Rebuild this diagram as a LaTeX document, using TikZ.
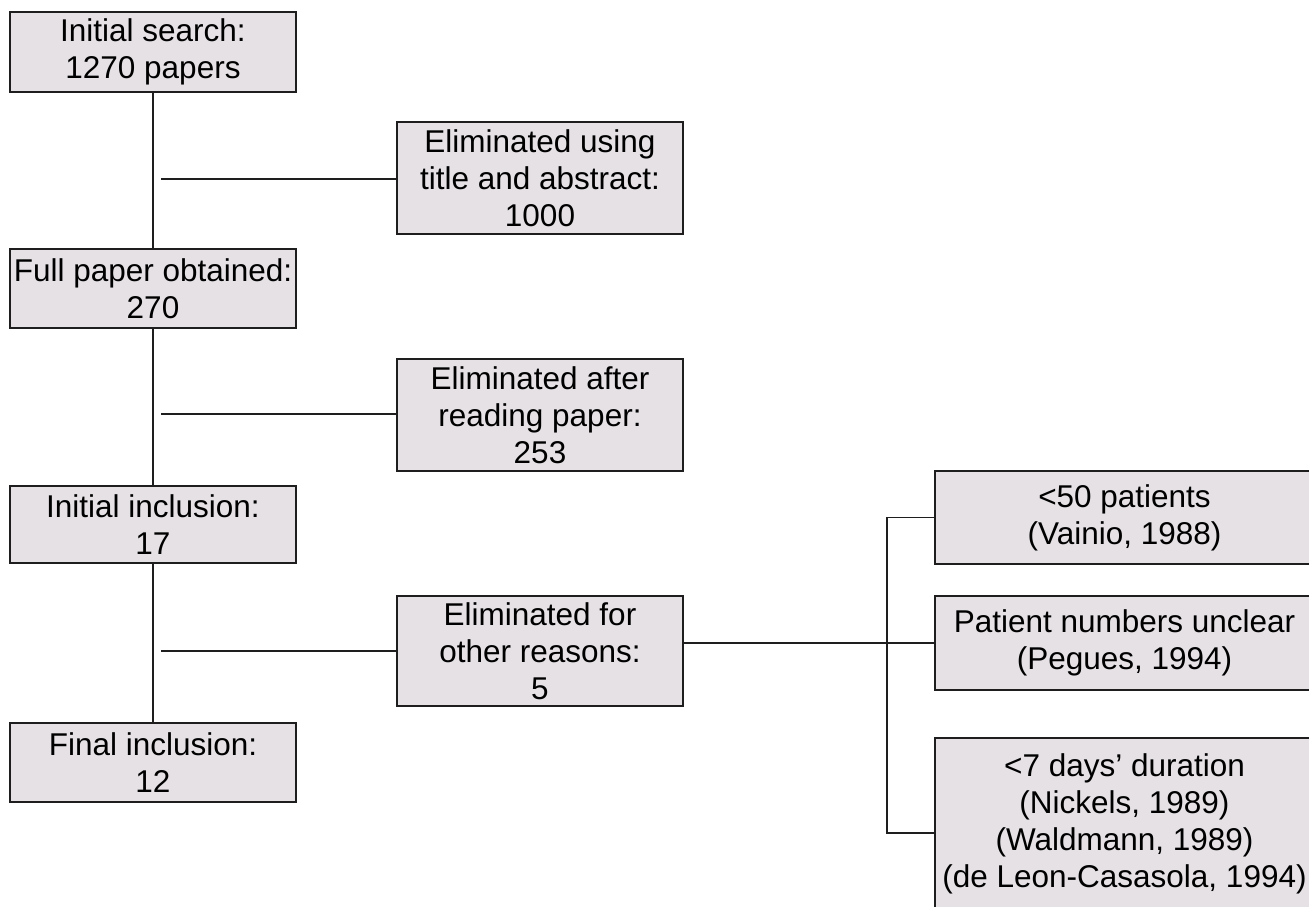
\documentclass[tikz,border=0pt]{standalone}
\usepackage{fontspec}
\setmainfont{Liberation Sans}
\definecolor{boxfill}{RGB}{229,225,229}
\definecolor{edgec}{RGB}{30,30,30}
\begin{document}
\begin{tikzpicture}[x=1pt,y=-1pt,
  box/.style={draw=edgec, line width=1.9pt, fill=boxfill, inner sep=0pt, align=center,
              font=\fontsize{31.5}{37}\selectfont, text=black},
  conn/.style={draw=edgec, line width=1.9pt}]
\useasboundingbox (0,0) rectangle (1309,907);
\clip (0,0) rectangle (1309,907);
% left column
\node[box, minimum width=286pt, minimum height=80pt] (b1) at (153,52) {Initial search:\\1270 papers};
\node[box, minimum width=286pt, minimum height=79pt] (b2) at (153,288.5) {Full paper obtained:\\270};
\node[box, minimum width=286pt, minimum height=77pt] (b3) at (153,524.5) {Initial inclusion:\\17};
\node[box, minimum width=286pt, minimum height=79pt] (b4) at (153,762.5) {Final inclusion:\\12};
% middle column
\node[box, minimum width=286pt, minimum height=112pt] (e1) at (540,178) {Eliminated using\\title and abstract:\\1000};
\node[box, minimum width=286pt, minimum height=112pt] (e2) at (540,415) {Eliminated after\\reading paper:\\253};
\node[box, minimum width=286pt, minimum height=110pt] (e3) at (540,651) {Eliminated for\\other reasons:\\5};
% right column
\node[box, minimum width=379pt, minimum height=93pt] (r1) at (1124.5,517.5) {<50 patients\\(Vainio, 1988)};
\node[box, minimum width=379pt, minimum height=94pt] (r2) at (1124.5,643) {Patient numbers unclear\\(Pegues, 1994)};
\node[box, minimum width=379pt, minimum height=172pt] (r3) at (1124.5,824) {<7 days’ duration\\(Nickels, 1989)\\(Waldmann, 1989)\\(de Leon-Casasola, 1994)};
% main trunk
\draw[conn] (b1) -- (b2);
\draw[conn] (b2) -- (b3);
\draw[conn] (b3) -- (b4);
% side branches
\coordinate (j1) at (161,179);
\coordinate (j2) at (161,414);
\coordinate (j3) at (161,651);
\draw[conn] (j1) -- (j1 -| e1.west);
\draw[conn] (j2) -- (j2 -| e2.west);
\draw[conn] (j3) -- (j3 -| e3.west);
% reasons bus
\coordinate (bt) at (887,517.5);
\coordinate (bb) at (887,833);
\draw[conn] (e3.east |- r2.west) -- (r2.west);
\draw[conn] (r1.west) -- (bt) -- (bb) -- (bb -| r3.west);
\end{tikzpicture}
\end{document}
